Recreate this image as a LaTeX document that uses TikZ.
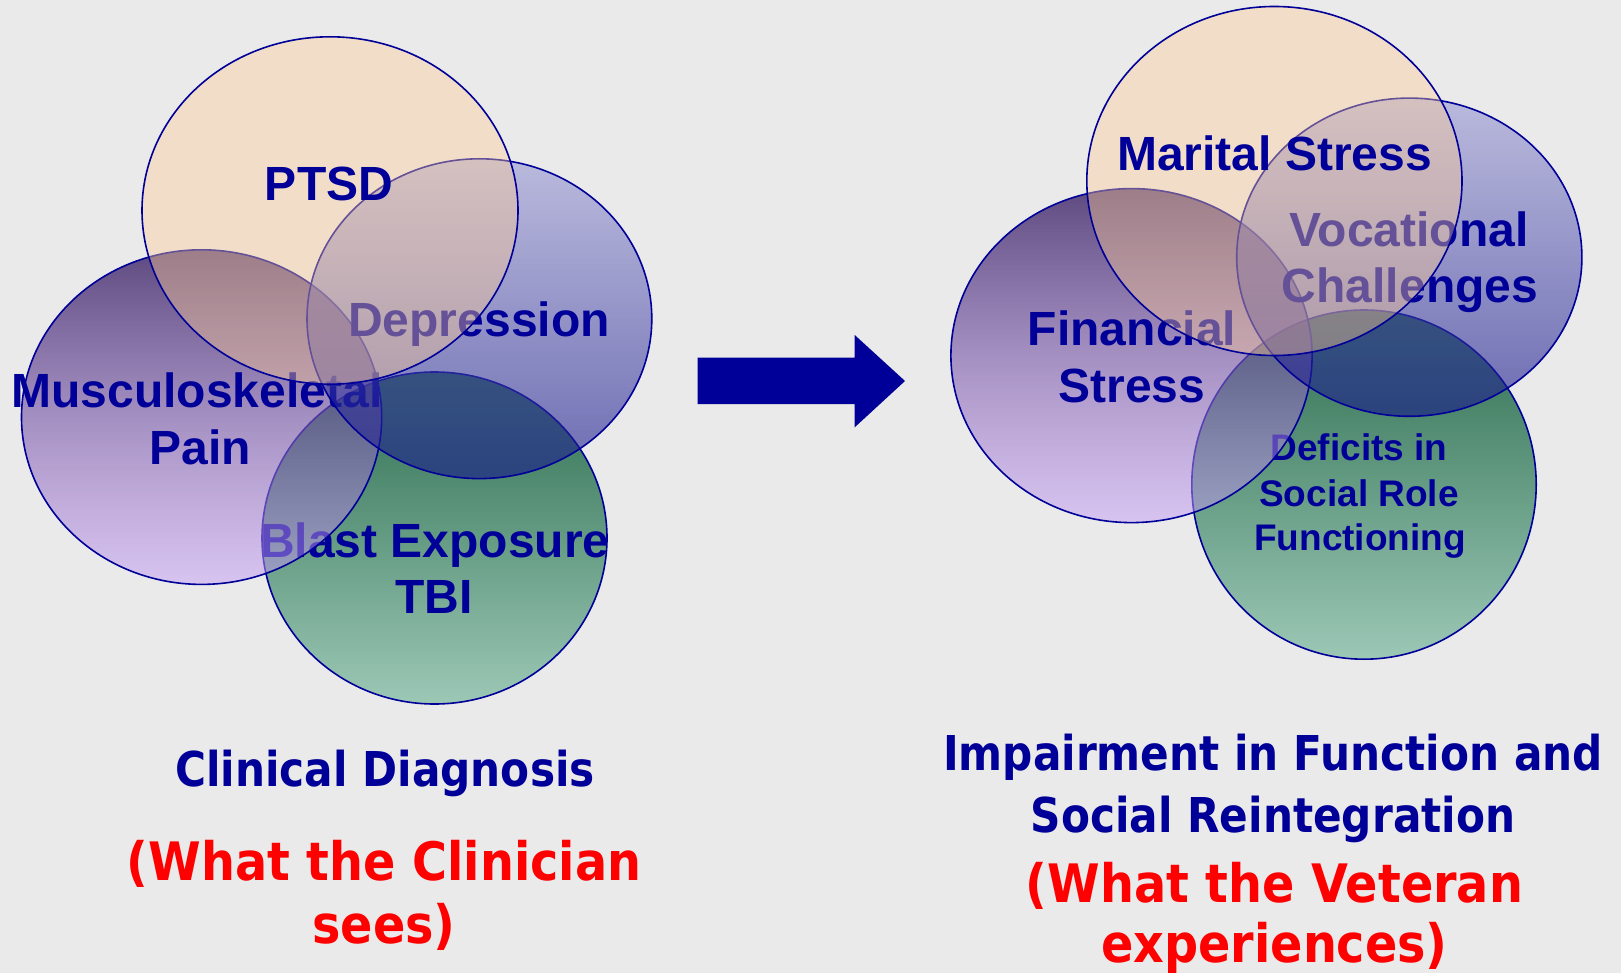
\documentclass[tikz,border=0pt]{standalone}
\usepackage{fontspec}
\setmainfont{Liberation Sans}
\newfontfamily\capfont[FakeStretch=0.88]{DejaVu Sans}
\newfontfamily\seenfont[FakeStretch=0.9]{DejaVu Sans}
\usetikzlibrary{fadings}
\definecolor{navy}{HTML}{000099}
\definecolor{bgray}{HTML}{EAEAEA}
\definecolor{peach}{RGB}{254,204,149}
\definecolor{bluetop}{RGB}{150,150,212}
\definecolor{bluebot}{RGB}{17,17,138}
\definecolor{purptop}{RGB}{47,21,93}
\definecolor{purpbot}{RGB}{198,158,246}
\definecolor{greentop}{RGB}{45,110,80}
\definecolor{greenbot}{RGB}{156,200,182}
\tikzfading[name=bluefade,top color=transparent!43,bottom color=transparent!42]
\tikzfading[name=purpfade,top color=transparent!25,bottom color=transparent!50]
\begin{document}
\begin{tikzpicture}[x=1pt,y=-1pt,
	txt/.style={anchor=base,inner sep=0pt,text=navy,font=\bfseries\fontsize{48}{56}\selectfont},
	small/.style={txt,font=\bfseries\fontsize{37}{44}\selectfont},
	capt/.style={anchor=base,inner sep=0pt,text=navy,font=\capfont\bfseries\fontsize{48}{58}\selectfont},
	seen/.style={capt,text=red,font=\seenfont\bfseries\fontsize{53}{62}\selectfont},
	rim/.style={draw=navy,line width=1.6pt},
	peachell/.style={fill=peach,fill opacity=.4},
	blueell/.style={top color=bluetop,bottom color=bluebot,path fading=bluefade},
	purpell/.style={top color=purptop,bottom color=purpbot,path fading=purpfade},
	greenell/.style={top color=greentop,bottom color=greenbot}]
		\fill[bgray](0,0)rectangle(1621,973);
		\useasboundingbox(0,0)rectangle(1621,973);
		% clinical side
		\shade[greenell](434.5,538)ellipse[x radius=172.5pt,y radius=166pt];
		\draw[rim](434.5,538)ellipse[x radius=172.5pt,y radius=166pt];
		\node[txt](tbi1)at(435,557){Blast Exposure};
		\node[txt](tbi2)at(434,613.5){TBI};
		\shade[purpell](201.6,417.1)ellipse[x radius=180.1pt,y radius=167.3pt];
		\draw[rim](201.6,417.1)ellipse[x radius=180.1pt,y radius=167.3pt];
		\node[txt](musc1)at(197,407){Musculoskeletal};
		\node[txt](musc2)at(200,464){Pain};
		\shade[blueell](479.4,318.7)ellipse[x radius=172.4pt,y radius=159.9pt];
		\draw[rim](479.4,318.7)ellipse[x radius=172.4pt,y radius=159.9pt];
		\node[txt](depr)at(479,337){Depression};
		\fill[peachell](330,210.5)ellipse[x radius=188pt,y radius=173.7pt];
		\draw[rim](330,210.5)ellipse[x radius=188pt,y radius=173.7pt];
		\node[txt](ptsd)at(329,201){PTSD};
		% arrow
		\fill[navy](697.7,357.7)--(854.7,357.7)--(854.7,335)--(905,381)--(854.7,427.3)--(854.7,404)--(697.7,404)--cycle;
		% veteran side
		\shade[greenell](1364,484.6)ellipse[x radius=172.2pt,y radius=174.6pt];
		\draw[rim](1364,484.6)ellipse[x radius=172.2pt,y radius=174.6pt];
		\node[small](def1)at(1359,460.5){Deficits in};
		\node[small](def2)at(1359,506){Social Role};
		\node[small](def3)at(1360,550){Functioning};
		\shade[purpell](1131.5,355.6)ellipse[x radius=180.6pt,y radius=167pt];
		\draw[rim](1131.5,355.6)ellipse[x radius=180.6pt,y radius=167pt];
		\node[txt](fin1)at(1132,345){Financial};
		\node[txt](fin2)at(1132,402){Stress};
		\shade[blueell](1409.3,257.2)ellipse[x radius=172.6pt,y radius=159.1pt];
		\draw[rim](1409.3,257.2)ellipse[x radius=172.6pt,y radius=159.1pt];
		\node[txt](voc1)at(1409,247){Vocational};
		\node[txt](voc2)at(1410,302){Challenges};
		\fill[peachell](1274.4,181)ellipse[x radius=187.6pt,y radius=174.5pt];
		\draw[rim](1274.4,181)ellipse[x radius=187.6pt,y radius=174.5pt];
		\node[txt](mar)at(1274.5,170.4){Marital Stress};
		% captions
		\node[capt](clin)at(385,786){Clinical Diagnosis};
		\node[seen](csee1)at(384,880){(What the Clinician};
		\node[seen](csee2)at(384,943){sees)};
		\node[capt](imp1)at(1273,770){Impairment in Function and};
		\node[capt](imp2)at(1273,832){Social Reintegration};
		\node[seen](vexp1)at(1274.5,902){(What the Veteran};
		\node[seen](vexp2)at(1274.5,962){experiences)};
	\end{tikzpicture}
\end{document}
